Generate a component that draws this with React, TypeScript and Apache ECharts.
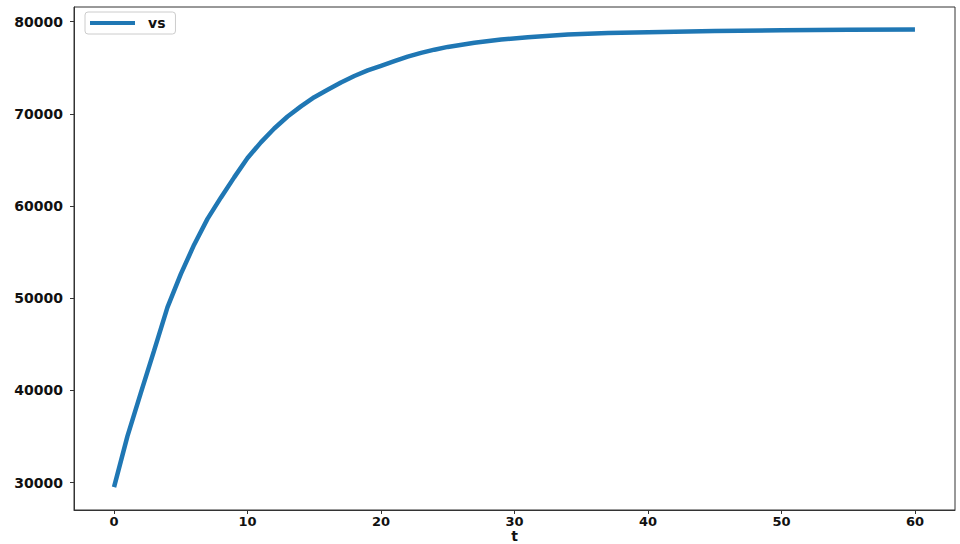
import React, { useEffect, useRef } from "react";
import * as echarts from "echarts";

const tValues = [0, 1, 2, 3, 4, 5, 6, 7, 8, 9, 10, 11, 12, 13, 14, 15, 16, 17, 18, 19, 20, 21, 22, 23, 24, 25, 27, 29, 31, 34, 37, 40, 45, 50, 55, 60];
const vsValues = [29500, 35000, 39700, 44300, 49000, 52600, 55800, 58600, 60900, 63100, 65200, 66900, 68400, 69700, 70800, 71800, 72600, 73400, 74100, 74700, 75200, 75700, 76200, 76600, 76950, 77250, 77700, 78050, 78300, 78600, 78750, 78850, 78980, 79050, 79100, 79150];
const xTicks = [0, 10, 20, 30, 40, 50, 60];
const yTicks = [30000, 40000, 50000, 60000, 70000, 80000];

const FONT = "DejaVu Sans";

export default function App() {
  const ref = useRef<HTMLDivElement>(null);
  useEffect(() => {
    if (!ref.current) return;
    const chart = echarts.init(ref.current, null, { renderer: "svg" });
    const data = tValues.map((t, i) => [t, vsValues[i]]);
    chart.setOption({
      animation: false,
      backgroundColor: "#ffffff",
      grid: {
        left: 74,
        right: 5,
        top: 7,
        bottom: 34,
        show: true,
        borderColor: "#333333",
        borderWidth: 1,
        containLabel: false,
        outerBoundsMode: "none",
      },
      legend: {
        show: true,
        left: 85,
        top: 12,
        data: [{ name: "vs" }],
        icon: "rect",
        itemWidth: 45,
        itemHeight: 4,
        backgroundColor: "#ffffff",
        borderColor: "#cccccc",
        borderWidth: 1,
        borderRadius: 3,
        padding: [4, 10, 4, 5],
        textStyle: {
          fontFamily: FONT,
          fontWeight: "bold",
          fontSize: 14,
          color: "#111111",
          padding: [0, 0, 0, 8],
        },
      },
      xAxis: {
        type: "value",
        min: -3,
        max: 63,
        name: "t",
        nameLocation: "middle",
        nameGap: 19,
        nameMoveOverlap: false,
        nameTextStyle: {
          fontFamily: FONT,
          fontWeight: "bold",
          fontSize: 14,
          lineHeight: 14,
          color: "#111111",
          verticalAlign: "top",
        },
        splitLine: { show: false },
        axisLine: { show: true, onZero: false, lineStyle: { color: "#333333", width: 1 } },
        axisTick: {
          show: true,
          inside: false,
          length: 4,
          customValues: xTicks,
          lineStyle: { color: "#333333" },
        },
        axisLabel: {
          customValues: xTicks,
          margin: 5,
          fontFamily: FONT,
          fontWeight: "bold",
          fontSize: 13,
          lineHeight: 12,
          color: "#111111",
          formatter: (v: number) => String(v),
        },
      },
      yAxis: {
        type: "value",
        min: 27020,
        max: 81580,
        splitLine: { show: false },
        axisLine: { show: true, onZero: false, lineStyle: { color: "#333333", width: 1 } },
        axisTick: {
          show: true,
          inside: false,
          length: 4,
          customValues: yTicks,
          lineStyle: { color: "#333333" },
        },
        axisLabel: {
          customValues: yTicks,
          margin: 11,
          fontFamily: FONT,
          fontWeight: "bold",
          fontSize: 14,
          color: "#111111",
          formatter: (v: number) => String(v),
        },
      },
      series: [
        {
          name: "vs",
          type: "line",
          data,
          symbol: "none",
          smooth: false,
          lineStyle: { color: "#1f77b4", width: 4.5 },
          itemStyle: { color: "#1f77b4" },
        },
      ],
    });
    return () => chart.dispose();
  }, []);
  return (
    <div
      ref={ref}
      style={{ position: "fixed", left: 0, top: 0, width: 960, height: 544, background: "#fff" }}
    />
  );
}
